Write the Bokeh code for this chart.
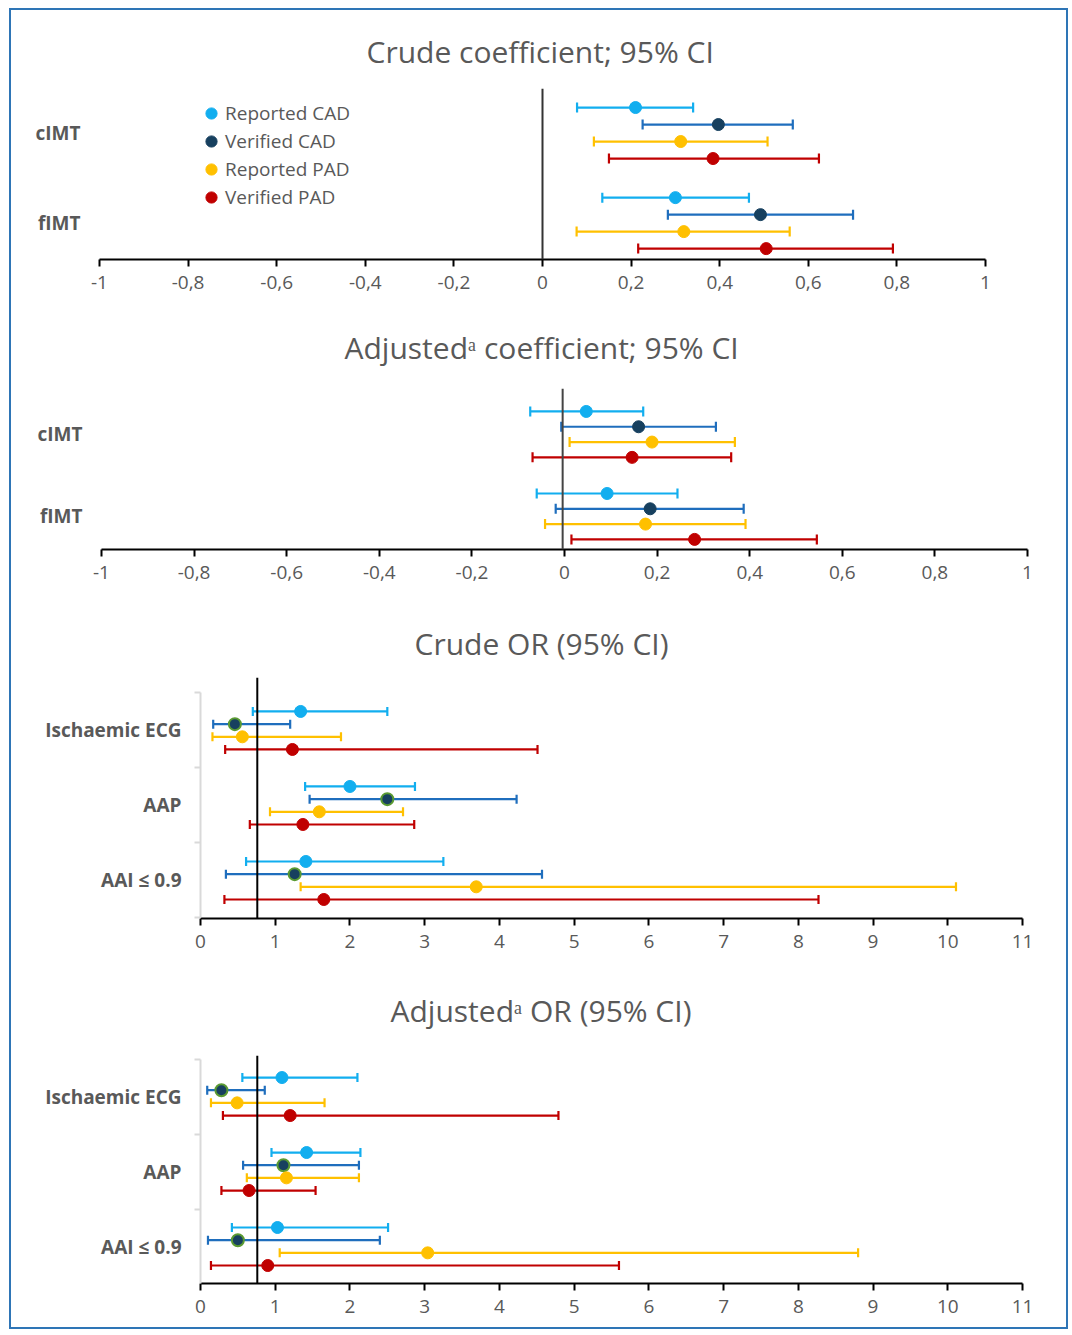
from bokeh.plotting import figure
from bokeh.models import (ColumnDataSource, Whisker, TeeHead, Span, Range1d,
                          FixedTicker, CustomJSTickFormatter, Legend, LegendItem)
from bokeh.layouts import column
from bokeh.embed import file_html
from bokeh.resources import INLINE

# ---------------- data ----------------
series = ["Reported CAD", "Verified CAD", "Reported PAD", "Verified PAD"]
line_colors = ["#12AEEF", "#1F6EBD", "#FFC000", "#C00000"]
dot_colors = ["#12AEEF", "#17405F", "#FFC000", "#C00000"]

coef_groups = ["cIMT", "fIMT"]
coef_ticks = [-1, -0.8, -0.6, -0.4, -0.2, 0, 0.2, 0.4, 0.6, 0.8, 1]

# order: group-major (cIMT: RC, VC, RP, VP; fIMT: RC, VC, RP, VP)
crude_coef_est = [0.210, 0.397, 0.312, 0.385, 0.300, 0.492, 0.319, 0.505]
crude_coef_lo = [0.078, 0.226, 0.116, 0.150, 0.135, 0.283, 0.077, 0.216]
crude_coef_hi = [0.340, 0.565, 0.508, 0.624, 0.466, 0.701, 0.558, 0.791]

adj_coef_est = [0.047, 0.160, 0.189, 0.146, 0.092, 0.185, 0.175, 0.281]
adj_coef_lo = [-0.074, -0.007, 0.011, -0.069, -0.060, -0.019, -0.042, 0.015]
adj_coef_hi = [0.170, 0.327, 0.368, 0.360, 0.244, 0.387, 0.391, 0.545]

or_groups = ["Ischaemic ECG", "AAP", "AAI \u2264 0.9"]
or_ticks = [0, 1, 2, 3, 4, 5, 6, 7, 8, 9, 10, 11]

crude_or_est = [1.34, 0.46, 0.56, 1.23, 2.00, 2.50, 1.59, 1.37, 1.41, 1.26, 3.69, 1.65]
crude_or_lo = [0.70, 0.17, 0.16, 0.33, 1.40, 1.46, 0.93, 0.66, 0.61, 0.34, 1.34, 0.32]
crude_or_hi = [2.50, 1.20, 1.88, 4.51, 2.87, 4.23, 2.71, 2.86, 3.25, 4.57, 10.11, 8.27]

adj_or_est = [1.09, 0.28, 0.49, 1.20, 1.42, 1.11, 1.15, 0.65, 1.03, 0.50, 3.04, 0.90]
adj_or_lo = [0.56, 0.09, 0.14, 0.30, 0.95, 0.57, 0.62, 0.28, 0.42, 0.10, 1.06, 0.14]
adj_or_hi = [2.10, 0.86, 1.66, 4.79, 2.14, 2.12, 2.12, 1.54, 2.51, 2.40, 8.80, 5.60]

coef_ref = 0.0
adj_coef_ref = -0.004
or_ref = 0.76

TEXT = "#595959"
FONT = "Open Sans"


def make_panel(title, groups, est, lo, hi, ref, xr, ticks, formatter, g,
               outline_verified=False, legend=False, gray_axis=False, ref_color="#222222"):
    gap = g["gap"]
    p = figure(frame_width=g["fw"], frame_height=g["fh"],
               min_border_left=g["bl"], min_border_right=g["br"],
               min_border_top=g["bt"], min_border_bottom=g["bb"],
               x_range=Range1d(*xr), y_range=Range1d(g["ybot"], g["ytop"]),
               output_backend="svg", toolbar_location=None, title=title)
    p.frame_align = False
    p.outline_line_color = None
    p.xgrid.visible = False
    p.ygrid.visible = False
    p.background_fill_color = None
    p.border_fill_color = None

    p.title.align = "left"
    p.title.offset = g["tx"]
    p.title.standoff = g["tstand"]
    p.title.text_font = FONT
    p.title.text_font_size = "30px"
    p.title.text_font_style = "normal"
    p.title.text_color = TEXT

    p.add_layout(Span(location=ref, dimension="height", line_color=ref_color, line_width=2))

    ns = len(series)
    renderers = []
    for s in range(ns):
        ys, e, l, h = [], [], [], []
        for gi in range(len(groups)):
            k = gi * ns + s
            ys.append(gi * gap + s)
            e.append(est[k]); l.append(lo[k]); h.append(hi[k])
        src = ColumnDataSource(dict(y=ys, est=e, lo=l, hi=h))
        c = line_colors[s]
        w = Whisker(source=src, base="y", lower="lo", upper="hi", dimension="width",
                    line_color=c, line_width=2.2,
                    upper_head=TeeHead(size=g["cap"], line_color=c, line_width=2.2),
                    lower_head=TeeHead(size=g["cap"], line_color=c, line_width=2.2))
        p.add_layout(w)
        if outline_verified and s == 1:
            r = p.scatter("est", "y", source=src, size=g["dot"], fill_color=dot_colors[s],
                          line_color="#5A9A32", line_width=2)
        else:
            r = p.scatter("est", "y", source=src, size=g["dot"], fill_color=dot_colors[s],
                          line_color=dot_colors[s], line_width=1)
        renderers.append(r)

    # x axis
    xa = p.xaxis[0]
    xa.ticker = FixedTicker(ticks=ticks, minor_ticks=[])
    if formatter is not None:
        xa.formatter = formatter
    xa.axis_line_color = "black"
    xa.axis_line_width = 2
    xa.major_tick_line_color = "black"
    xa.major_tick_line_width = 2
    xa.major_tick_in = 0
    xa.major_tick_out = 7
    xa.minor_tick_line_color = None
    xa.major_label_text_font = FONT
    xa.major_label_text_font_size = "19px"
    xa.major_label_text_color = TEXT
    xa.major_label_standoff = 9

    # y axis (category labels)
    centers = [gi * gap + (ns - 1) / 2 for gi in range(len(groups))]
    seps = [gi * gap - (gap - (ns - 1)) / 2 for gi in range(len(groups) + 1)]
    ya = p.yaxis[0]
    ya.ticker = FixedTicker(ticks=centers, minor_ticks=seps if gray_axis else [])
    ya.major_label_overrides = {c: n for c, n in zip(centers, groups)}
    ya.major_tick_line_color = None
    ya.major_tick_out = 0
    ya.major_tick_in = 0
    ya.major_label_text_font = FONT
    ya.major_label_text_font_style = "bold"
    ya.major_label_text_font_size = "19px"
    ya.major_label_text_color = TEXT
    ya.major_label_standoff = g["ystand"]
    if gray_axis:
        ya.axis_line_color = "#D9D9D9"
        ya.axis_line_width = 2
        ya.bounds = (seps[0], seps[-1])
        ya.minor_tick_line_color = "#D9D9D9"
        ya.minor_tick_line_width = 2
        ya.minor_tick_in = 0
        ya.minor_tick_out = 6
    else:
        ya.axis_line_color = None
        ya.minor_tick_line_color = None

    if legend:
        items = [LegendItem(label=series[s], renderers=[renderers[s]]) for s in range(ns)]
        lg = Legend(items=items, location=(98, 48), padding=0, margin=0,
                    border_line_color=None, background_fill_alpha=0,
                    glyph_width=28, glyph_height=28, label_height=28, spacing=0,
                    label_standoff=0, label_text_font=FONT, label_text_font_size="19px",
                    label_text_color=TEXT)
        p.add_layout(lg)
    return p


def coef_formatter():
    return CustomJSTickFormatter(code="""
if (Math.abs(tick - Math.round(tick)) < 1e-9) { return String(Math.round(tick)); }
return tick.toFixed(1).replace('.', ',');
""")


g1 = dict(fw=886, fh=171, bl=88, br=81, bt=78, bb=44, gap=5.3, ytop=-1.12, ybot=8.94,
          cap=10, dot=12, ystand=19, tx=267, tstand=34)
g2 = dict(fw=926, fh=161, bl=90, br=39, bt=85, bb=51, gap=5.36, ytop=-1.5, ybot=9.02,
          cap=10, dot=12, ystand=19, tx=243, tstand=42)
g3 = dict(fw=822, fh=241, bl=189, br=44, bt=77, bb=44, gap=5.92, ytop=-2.68, ybot=16.34,
          cap=9, dot=12, ystand=13, tx=214, tstand=28)
g4 = dict(fw=822, fh=228, bl=189, br=44, bt=93, bb=44, gap=5.92, ytop=-1.74, ybot=16.26,
          cap=9, dot=12, ystand=13, tx=190, tstand=50)

p1 = make_panel("Crude coefficient; 95% CI", coef_groups, crude_coef_est, crude_coef_lo,
                crude_coef_hi, coef_ref, (-1, 1), coef_ticks, coef_formatter(), g1,
                legend=True, ref_color="#333333")
p2 = make_panel("Adjusted\u1d43 coefficient; 95% CI", coef_groups, adj_coef_est, adj_coef_lo,
                adj_coef_hi, adj_coef_ref, (-1, 1), coef_ticks, coef_formatter(), g2,
                ref_color="#444444")
p3 = make_panel("Crude OR (95% CI)", or_groups, crude_or_est, crude_or_lo, crude_or_hi,
                or_ref, (0, 11), or_ticks, None, g3, outline_verified=True, gray_axis=True,
                ref_color="black")
p4 = make_panel("Adjusted\u1d43 OR (95% CI)", or_groups, adj_or_est, adj_or_lo, adj_or_hi,
                or_ref, (0, 11), or_ticks, None, g4, outline_verified=True, gray_axis=True,
                ref_color="black")

layout = column(p1, p2, p3, p4, spacing=0,
                styles={"border": "2px solid #2E75B6", "background-color": "white",
                        "margin-left": "9px", "margin-top": "8px"})

open("out.html", "w").write(file_html(layout, INLINE))
